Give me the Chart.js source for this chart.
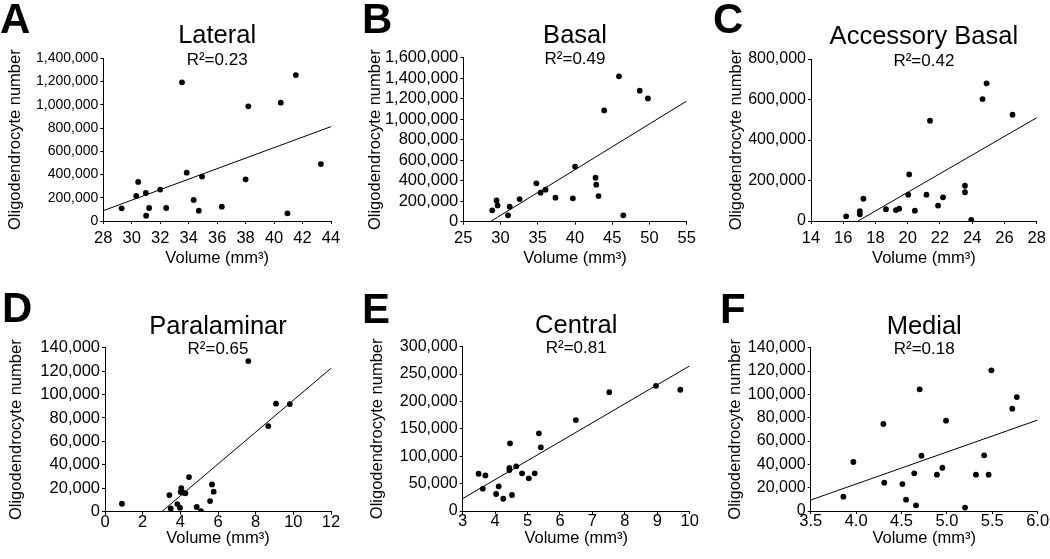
<!DOCTYPE html>
<html><head><meta charset="utf-8">
<script src="https://cdn.jsdelivr.net/npm/chart.js@4.4.1/dist/chart.umd.min.js"></script>
<style>
html,body{margin:0;padding:0;background:#fff;}
#wrap{position:relative;width:1050px;height:559px;overflow:hidden;background:#fff;}
.panel{position:absolute;width:350px;height:280px;}
canvas{display:block;}
</style></head><body><div id="wrap"></div>
<script>
// ---------- text ----------
const panelLetters = ['A','B','C','D','E','F'];
const regionNames = ['Lateral','Basal','Accessory Basal','Paralaminar','Central','Medial'];
const r2Labels = ['R²=0.23','R²=0.49','R²=0.42','R²=0.65','R²=0.81','R²=0.18'];
const xAxisTitle = 'Volume (mm³)';
const yAxisTitle = 'Oligodendrocyte number';

// ---------- A: Lateral ----------
const volLateral   = [29.29,30.45,30.31,30.99,31.01,31.22,32.00,32.42,33.53,33.86,34.35,34.71,34.94,36.33,38.00,38.19,40.47,40.94,41.53,43.29];
const oligoLateral = [109000,336000,215000,241000,46000,112000,270000,112000,1193000,416000,181000,89000,382000,123000,359000,987000,1018000,66000,1256000,490000];
const fitVolLateral = [28,44];
const fitOligoLateral = [89000,812000];
const xTickLabelsLateral = ['28','30','32','34','36','38','40','42','44'];
const yTickLabelsLateral = ['0','200,000','400,000','600,000','800,000','1,000,000','1,200,000','1,400,000'];

// ---------- B: Basal ----------
const volBasal   = [28.89,29.46,29.60,31.01,31.23,32.56,34.81,35.38,36.05,37.37,39.71,40.02,42.76,42.85,43.16,43.92,45.90,46.48,48.69,49.79];
const oligoBasal = [111000,208000,159000,62000,146000,221000,374000,283000,312000,234000,228000,537000,429000,361000,250000,1086000,1418000,62000,1278000,1203000];
const fitVolBasal = [28.62,55];
const fitOligoBasal = [0,1177000];
const xTickLabelsBasal = ['25','30','35','40','45','50','55'];
const yTickLabelsBasal = ['0','200,000','400,000','600,000','800,000','1,000,000','1,200,000','1,400,000','1,600,000'];

// ---------- C: Accessory Basal ----------
const volAccBasal   = [16.18,17.03,17.03,17.25,18.65,19.27,19.47,20.03,20.09,20.44,21.16,21.38,21.88,22.19,23.55,23.55,23.94,24.64,24.89,26.50];
const oligoAccBasal = [23000,49000,33000,110000,58000,54000,61000,130000,230000,51000,130000,495000,76000,117000,174000,142000,5000,602000,680000,525000];
const fitVolAccBasal = [16.92,28];
const fitOligoAccBasal = [0,510000];
const xTickLabelsAccBasal = ['14','16','18','20','22','24','26','28'];
const yTickLabelsAccBasal = ['0','200,000','400,000','600,000','800,000'];

// ---------- D: Paralaminar ----------
const volParalaminar   = [0.90,3.42,3.49,3.84,3.98,4.05,4.02,4.16,4.27,4.46,4.87,5.10,5.58,5.68,5.77,7.61,8.67,9.08,9.81];
const oligoParalaminar = [6800,14200,2800,6500,3400,20200,16800,16200,15700,29600,4000,500,9100,23300,17100,128600,73100,92200,91900];
const fitVolParalaminar = [3.01,12];
const fitOligoParalaminar = [0,122400];
const xTickLabelsParalaminar = ['0','2','4','6','8','10','12'];
const yTickLabelsParalaminar = ['0','20,000','40,000','60,000','80,000','100,000','120,000','140,000'];

// ---------- E: Central ----------
const volCentral   = [3.49,3.70,3.62,4.11,4.03,4.25,4.52,4.46,4.44,4.44,4.65,4.83,5.04,5.22,5.41,5.35,6.49,7.52,8.96,9.71];
const oligoCentral = [68000,65000,40700,45000,31000,22400,29200,123500,78500,74800,81600,68800,59700,68800,116200,141800,166000,217000,228600,221400];
const fitVolCentral = [3,10];
const fitOligoCentral = [22700,265000];
const xTickLabelsCentral = ['3','4','5','6','7','8','9','10'];
const yTickLabelsCentral = ['0','50,000','100,000','150,000','200,000','250,000','300,000'];

// ---------- F: Medial ----------
const volMedial   = [3.86,3.97,4.30,4.31,4.51,4.55,4.64,4.66,4.70,4.72,4.89,4.95,4.99,5.20,5.32,5.41,5.46,5.49,5.72,5.77];
const oligoMedial = [12300,42000,74600,24300,23100,9700,32300,4900,104300,47400,31100,37100,77400,2900,31100,47700,31100,120600,87700,97700];
const fitVolMedial = [3.5,6];
const fitOligoMedial = [9400,78000];
const xTickLabelsMedial = ['3.5','4.0','4.5','5.0','5.5','6.0'];
const yTickLabelsMedial = ['0','20,000','40,000','60,000','80,000','100,000','120,000','140,000'];

// ---------- layout (positions/styles only) ----------
const FONT = '"Liberation Sans", Arial, Helvetica, sans-serif';
const layouts = [
  {left:0,   top:0,   L:103.3, R:331,   T:58.3, B:221,   yTitleX:15.7, yTickSize:14,   xLabOff:17, letterX:0,  letterY:33, titleDy:-15},
  {left:350, top:0,   L:113.3, R:339.7, T:57.7, B:221.7, yTitleX:25.7, yTickSize:16.5, xLabOff:17, letterX:12, letterY:33, titleDy:-15},
  {left:700, top:0,   L:111,   R:337.7, T:59,   B:221,   yTitleX:36,   yTickSize:16,   xLabOff:17, letterX:13, letterY:33, titleDy:-15},
  {left:0,   top:280, L:105,   R:331,   T:67.7, B:231.7, yTitleX:16.3, yTickSize:16.5, xLabOff:10.5, letterX:2,  letterY:42, titleDy:-14},
  {left:350, top:280, L:112.7, R:339.7, T:66.7, B:231,   yTitleX:27.3, yTickSize:16,   xLabOff:10.5, letterX:12, letterY:43, titleDy:-14},
  {left:700, top:280, L:110.7, R:337.7, T:67.7, B:231,   yTitleX:35.5, yTickSize:16,   xLabOff:10.5, letterX:20, letterY:43, titleDy:-14}
];

const panels = [
  [volLateral, oligoLateral, fitVolLateral, fitOligoLateral, xTickLabelsLateral, yTickLabelsLateral],
  [volBasal, oligoBasal, fitVolBasal, fitOligoBasal, xTickLabelsBasal, yTickLabelsBasal],
  [volAccBasal, oligoAccBasal, fitVolAccBasal, fitOligoAccBasal, xTickLabelsAccBasal, yTickLabelsAccBasal],
  [volParalaminar, oligoParalaminar, fitVolParalaminar, fitOligoParalaminar, xTickLabelsParalaminar, yTickLabelsParalaminar],
  [volCentral, oligoCentral, fitVolCentral, fitOligoCentral, xTickLabelsCentral, yTickLabelsCentral],
  [volMedial, oligoMedial, fitVolMedial, fitOligoMedial, xTickLabelsMedial, yTickLabelsMedial]
];

const textPlugin = {
  id: 'panelText',
  afterDraw(chart, args, o) {
    const ctx = chart.ctx, ca = chart.chartArea;
    ctx.save();
    ctx.fillStyle = '#000';
    ctx.textBaseline = 'alphabetic';
    ctx.textAlign = 'left';
    ctx.font = 'bold 42px ' + FONT;
    ctx.fillText(o.letter, o.letterX, o.letterY);
    const cx = (ca.left + ca.right) / 2;
    ctx.textAlign = 'center';
    ctx.font = '25.5px ' + FONT;
    ctx.fillText(o.title, cx, ca.top + o.titleDy);
    ctx.font = '17px ' + FONT;
    ctx.fillText(o.r2, cx, ca.top + 6.5);
    ctx.restore();
  }
};

const num = s => parseFloat(String(s).replace(/,/g, ''));
const wrap = document.getElementById('wrap');

panels.forEach((p, i) => {
  const [xs, ys, fx, fy, xLabs, yLabs] = p;
  const lay = layouts[i];
  const div = document.createElement('div');
  div.className = 'panel';
  div.style.left = lay.left + 'px';
  div.style.top = lay.top + 'px';
  const cv = document.createElement('canvas');
  cv.width = 350; cv.height = 280;
  div.appendChild(cv);
  wrap.appendChild(div);

  const titleSize = 16.5;
  const titleLH = titleSize * 1.2;
  const pL = lay.yTitleX - titleLH / 2;
  const xTitleY = 258;
  const pB = 280 - (xTitleY + titleLH / 2);
  const xVals = xLabs.map(num), yVals = yLabs.map(num);
  const tickLen = 3;
  const xFont = 16.5, xLH = xFont * 1.2;

  new Chart(cv, {
    type: 'scatter',
    data: {
      datasets: [
        { data: xs.map((x, k) => ({x, y: ys[k]})), pointRadius: 2.9, pointHoverRadius: 2.9,
          backgroundColor: '#000', borderColor: '#000', borderWidth: 0 },
        { data: fx.map((x, k) => ({x, y: fy[k]})), showLine: true, pointRadius: 0,
          borderColor: '#000', borderWidth: 1, fill: false }
      ]
    },
    options: {
      responsive: false, animation: false, devicePixelRatio: 1,
      events: [],
      layout: { padding: { left: pL, top: lay.T, right: 350 - lay.R, bottom: pB } },
      plugins: {
        legend: { display: false }, tooltip: { enabled: false },
        panelText: { letter: panelLetters[i], title: regionNames[i], r2: r2Labels[i],
          letterX: lay.letterX, letterY: lay.letterY, titleDy: lay.titleDy }
      },
      scales: {
        x: {
          type: 'linear', min: xVals[0], max: xVals[xVals.length - 1],
          afterBuildTicks: s => { s.ticks = xVals.map(v => ({value: v})); },
          afterFit: s => { s.height = (280 - pB) - lay.B; },
          ticks: { color: '#000', font: { family: FONT, size: xFont }, maxRotation: 0, autoSkip: false,
            padding: lay.xLabOff - tickLen - xLH / 2,
            callback: (v, idx) => xLabs[idx] },
          grid: { drawOnChartArea: false, drawTicks: true, color: '#000', tickLength: tickLen, lineWidth: 1 },
          border: { display: true, color: '#000', width: 1 },
          title: { display: true, text: xAxisTitle, color: '#000', font: { family: FONT, size: titleSize }, padding: 0 }
        },
        y: {
          type: 'linear', min: yVals[0], max: yVals[yVals.length - 1],
          afterBuildTicks: s => { s.ticks = yVals.map(v => ({value: v})); },
          afterFit: s => { s.width = lay.L - pL; },
          ticks: { color: '#000', font: { family: FONT, size: lay.yTickSize }, autoSkip: false, padding: 2,
            callback: (v, idx) => yLabs[idx] },
          grid: { drawOnChartArea: false, drawTicks: true, color: '#000', tickLength: tickLen, lineWidth: 1 },
          border: { display: true, color: '#000', width: 1 },
          title: { display: true, text: yAxisTitle, color: '#000', font: { family: FONT, size: titleSize }, padding: 0 }
        }
      }
    },
    plugins: [textPlugin]
  });
});
</script></body></html>
